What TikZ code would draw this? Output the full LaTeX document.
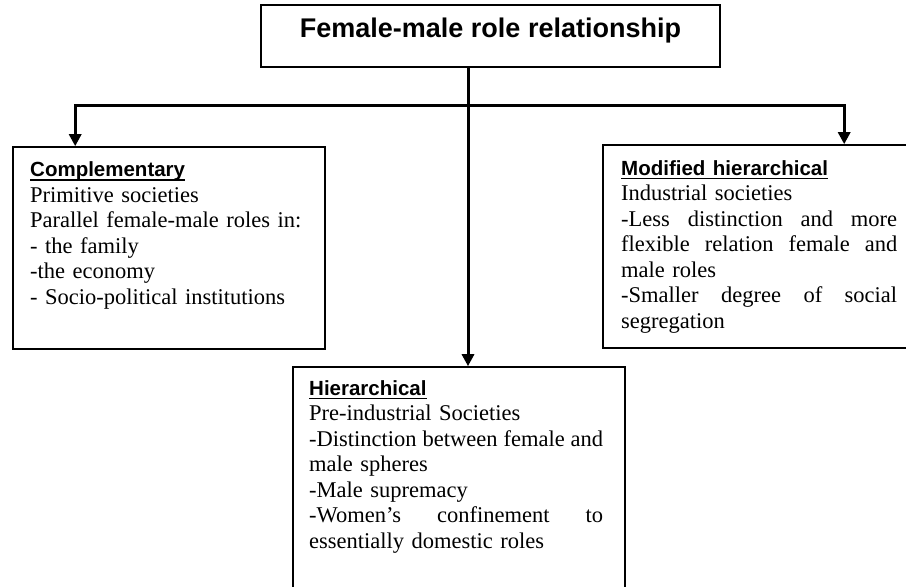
\documentclass[tikz,border=0pt]{standalone}
\usepackage{fontspec}
\setmainfont{Liberation Serif}
\newfontfamily\headfont{Liberation Sans}
\usetikzlibrary{arrows.meta}

% one justified line: words separated by \hfill in a box of given width
\newcommand\jline[2]{\leavevmode\hbox to #1{#2}}
% bold sans heading with a rule a fixed distance under the baseline
\newcommand\headul[1]{{\headfont\bfseries\fontsize{20.5}{25.5}\selectfont
  \setbox0=\hbox{#1}\rlap{\rule[-4pt]{\wd0}{1.4pt}}\box0}}

\begin{document}
\begin{tikzpicture}[x=1pt,y=1pt,
  frame/.style={draw, line width=1.6pt, rectangle, inner sep=0pt},
  conn/.style={line width=3pt, line join=miter},
  arrowed/.style={-{Triangle[width=12pt,length=12pt]}},
  bodytext/.style={anchor=base west, inner sep=0pt, align=left,
    font=\fontsize{22.5}{25.5}\selectfont},
  titletext/.style={anchor=base, inner sep=0pt,
    font=\headfont\bfseries\fontsize{27}{30}\selectfont}]

\useasboundingbox (0,0) rectangle (906,-587);
\clip (0,0) rectangle (906,-587);

% boxes
\node[frame, minimum width=459pt, minimum height=62pt] (title) at (490.5,-36) {};
\node[frame, minimum width=312pt, minimum height=202pt] (comp) at (169,-248) {};
\node[frame, minimum width=312pt, minimum height=203pt] (mod) at (759,-246.5) {};
\node[frame, minimum width=332pt, minimum height=253pt] (hier) at (459,-493.5) {};

% texts
\node[titletext] (titlelbl) at (490.5,-37) {Female-male role relationship};

\node[bodytext, text width=295pt] (comptext) at (30,-176.5) {%
  \headul{Complementary}\\
  Primitive societies\\
  Parallel female-male roles in:\\
  - the family\\
  -the economy\\
  - Socio-political institutions};

\node[bodytext, text width=277pt] (modtext) at (621,-175) {%
  \headul{Modified hierarchical}\\
  Industrial societies\\
  \jline{276pt}{-Less\hfill distinction\hfill and\hfill more}\\
  \jline{276pt}{flexible\hfill relation\hfill female\hfill and}\\
  male roles\\
  \jline{276pt}{-Smaller\hfill degree\hfill of\hfill social}\\
  segregation};

\node[bodytext, text width=296pt] (hiertext) at (309,-395) {%
  \headul{Hierarchical}\\
  Pre-industrial Societies\\
  \jline{294pt}{-Distinction\hfill between\hfill female\hfill and}\\
  male spheres\\
  -Male supremacy\\
  \jline{294pt}{-Women’s\hfill confinement\hfill to}\\
  essentially domestic roles};

% connectors
\coordinate (jn) at (468,-105);
\draw[conn, arrowed] (jn |- title.south) -- (jn |- hier.north);
\draw[conn, arrowed] (jn) -| ([xshift=63pt]comp.north west);
\draw[conn, arrowed] (jn) -| ([xshift=242pt]mod.north west);
\end{tikzpicture}
\end{document}
